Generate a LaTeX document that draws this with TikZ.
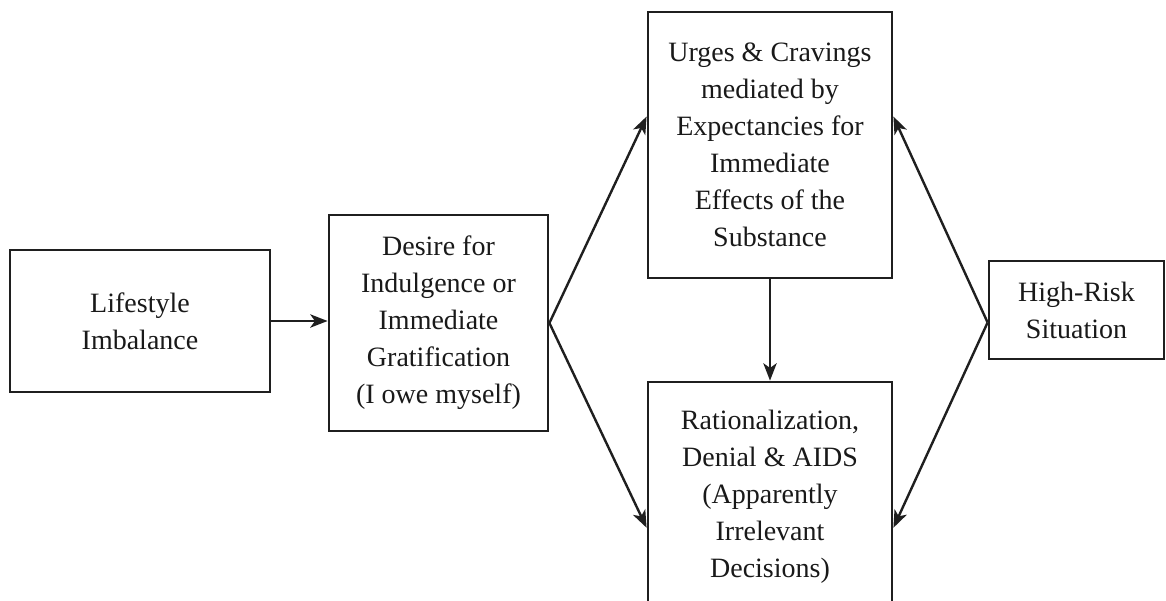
\documentclass[tikz,border=0pt]{standalone}
\usepackage{fontspec}
\setmainfont{Liberation Serif}
\usetikzlibrary{arrows.meta}
\begin{document}
\begin{tikzpicture}[x=0.75pt,y=-0.75pt,
  box/.style={draw=black!88,line width=2.1pt,rectangle,align=center,
    inner sep=0pt,font=\fontsize{21}{27.75}\selectfont,text=black!90},
  arr/.style={draw=black!88,line width=1.8pt,
    -{Stealth[length=13pt,width=10pt,inset=3.5pt]}}]
\useasboundingbox (0,0) rectangle (1166,600);
\clip (0,0) rectangle (1166,600);
\node[box,minimum width=260*0.75pt,minimum height=142*0.75pt] (life) at (140,321)
  {Lifestyle\\Imbalance};
\node[box,minimum width=219*0.75pt,minimum height=216*0.75pt] (desire) at (438.5,323)
  {Desire for\\Indulgence or\\Immediate\\Gratification\\(I owe myself)};
\node[box,minimum width=244*0.75pt,minimum height=266*0.75pt] (urges) at (770,145)
  {Urges \& Cravings\\mediated by\\Expectancies for\\Immediate\\Effects of the\\Substance};
\node[box,minimum width=244*0.75pt,minimum height=230*0.75pt] (ration) at (770,497)
  {Rationalization,\\Denial \& AIDS\\(Apparently\\Irrelevant\\Decisions)};
\node[box,minimum width=175*0.75pt,minimum height=98*0.75pt] (high) at (1076.5,310)
  {High-Risk\\Situation};
\draw[arr] (life.east) -- (life.east -| desire.west);
\draw[arr] (desire.east) -- (urges.167);
\draw[arr] (desire.east) -- (ration.194);
\draw[arr] (high.188) -- (urges.13);
\draw[arr] (high.188) -- (ration.346);
\draw[arr] (urges.south) -- (ration.north);
\end{tikzpicture}
\end{document}
